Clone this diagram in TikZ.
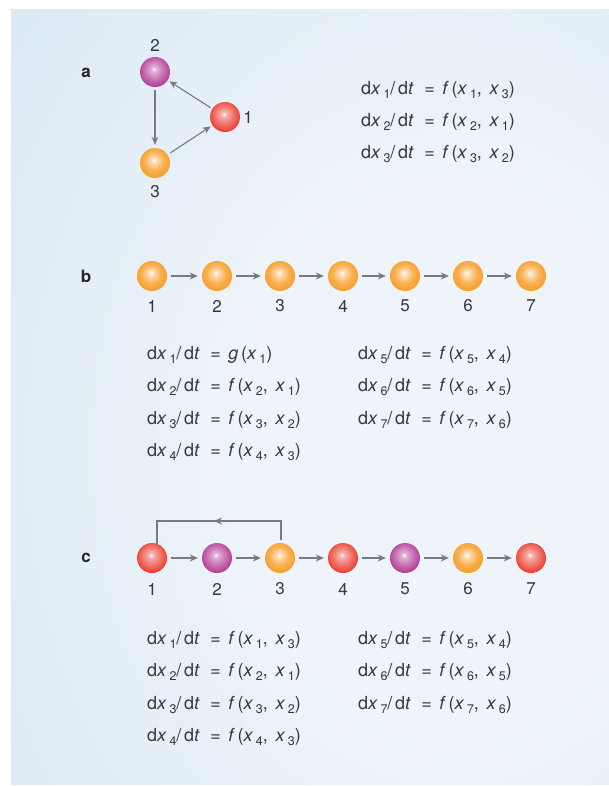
\documentclass[tikz,border=0pt]{standalone}
\usepackage{fontspec}
\setmainfont{TeX Gyre Heros}
\usetikzlibrary{arrows.meta,shadings}
\definecolor{txt}{RGB}{55,55,60}
\definecolor{arr}{RGB}{120,122,128}
\definecolor{bgtop}{RGB}{196,221,241}
\definecolor{bgmid}{RGB}{238,244,249}
\definecolor{ornge}{RGB}{247,150,25}
\definecolor{redb}{RGB}{232,38,22}
\definecolor{purp}{RGB}{168,36,138}
\definecolor{rim}{RGB}{252,222,80}
\pgfdeclareradialshading{orangeball}{\pgfpoint{-2bp}{5bp}}{color(0bp)=(white); color(4bp)=(white!70!ornge); color(16bp)=(ornge!75!white); color(32bp)=(ornge); color(44bp)=(ornge!90!black); color(49bp)=(rim); color(60bp)=(rim)}
\pgfdeclareradialshading{redball}{\pgfpoint{-2bp}{5bp}}{color(0bp)=(white); color(4bp)=(white!65!redb); color(16bp)=(redb!65!white); color(32bp)=(redb); color(44bp)=(redb!90!black); color(49bp)=(rim!75!redb); color(60bp)=(rim!75!redb)}
\pgfdeclareradialshading{purpball}{\pgfpoint{-2bp}{5bp}}{color(0bp)=(white); color(4bp)=(white!65!purp); color(16bp)=(purp!65!white); color(32bp)=(purp); color(44bp)=(purp!90!black); color(49bp)=(rim!65!purp); color(60bp)=(rim!65!purp)}
\pgfdeclareradialshading{bgsh}{\pgfpoint{15bp}{-5bp}}{color(0bp)=(bgmid); color(18bp)=(bgmid); color(75bp)=(bgtop); color(100bp)=(bgtop)}
\newcommand{\sbs}[1]{\raisebox{-0.45ex}{\fontsize{12.5}{12.5}\selectfont #1}}
\newcommand{\eqn}[4]{d\textit{x}\sbs{#1}/d\textit{t} = \textit{#2}(\textit{x}\sbs{#3}, \textit{x}\sbs{#4})}
\tikzset{
  ball/.style={circle, minimum size=30pt, inner sep=0pt},
  ob/.style={ball, shading=orangeball},
  rb/.style={ball, shading=redball},
  pb/.style={ball, shading=purpball},
  lab/.style={text=txt, font=\fontsize{17}{17}\selectfont},
  eq/.style={text=txt, font=\fontsize{18}{18}\selectfont\addfontfeatures{LetterSpace=15}, anchor=west, inner sep=0pt},
  panel/.style={text=black!85, font=\fontsize{17}{17}\selectfont\bfseries},
  con/.style={draw=arr, line width=1.1pt, -{Stealth[length=8pt,width=7pt]}},
}
\begin{document}
\begin{tikzpicture}[x=1pt,y=-1pt]
\useasboundingbox (0,0) rectangle (609,786);
\shade[shading=bgsh] (11,10) rectangle (609,784);
% panel a
\node[panel] (la) at (86,73) {a};
\node[pb] (a2) at (155,72) {};
\node[rb] (a1) at (225,117) {};
\node[ob] (a3) at (155,163) {};
\node[lab] (ta2) at (155,45) {2};
\node[lab] (ta1) at (248,117) {1};
\node[lab] (ta3) at (155,192) {3};
\draw[con, shorten <=2pt, shorten >=2pt] (a1) -- (a2);
\draw[con, shorten <=3pt, shorten >=3pt] (a2) -- (a3);
\draw[con, shorten <=3pt, shorten >=2pt] (a3) -- (a1);
\node[eq] (ea1) at (361,90) {\eqn{1}{f}{1}{3}};
\node[eq] (ea2) at (361,122) {\eqn{2}{f}{2}{1}};
\node[eq] (ea3) at (361,154) {\eqn{3}{f}{3}{2}};
% panel b
\node[panel] (lb) at (86,276) {b};
\foreach \i/\x in {1/152,2/217,3/280,4/343,5/405,6/468,7/531}{
  \node[ob] (b\i) at (\x,276) {};
  \node[lab] (tb\i) at (\x,306) {\i};
}
\foreach \i/\j in {1/2,2/3,3/4,4/5,5/6,6/7}{
  \draw[con, shorten <=4pt, shorten >=4pt] (b\i) -- (b\j);
}
\node[eq] (eb1) at (147,355) {d\textit{x}\sbs{1}/d\textit{t} = \textit{g}(\textit{x}\sbs{1})};
\node[eq] (eb2) at (147,387) {\eqn{2}{f}{2}{1}};
\node[eq] (eb3) at (147,420) {\eqn{3}{f}{3}{2}};
\node[eq] (eb4) at (147,452) {\eqn{4}{f}{4}{3}};
\node[eq] (eb5) at (358,355) {\eqn{5}{f}{5}{4}};
\node[eq] (eb6) at (358,387) {\eqn{6}{f}{6}{5}};
\node[eq] (eb7) at (358,420) {\eqn{7}{f}{7}{6}};
% panel c
\node[panel] (lc) at (86,558) {c};
\foreach \i/\x/\s in {1/152/rb,2/217/pb,3/280/ob,4/343/rb,5/405/pb,6/468/ob,7/531/rb}{
  \node[\s] (c\i) at (\x,558) {};
  \node[lab] (tc\i) at (\x,589) {\i};
}
\foreach \i/\j in {1/2,2/3,3/4,4/5,5/6,6/7}{
  \draw[con, shorten <=4pt, shorten >=4pt] (c\i) -- (c\j);
}
\coordinate (fbR) at (281,521);
\coordinate (fbL) at (157,521);
\coordinate (fbA) at (281,540);
\coordinate (fbB) at (157,544);
\draw[draw=arr, line width=1.1pt] (fbA) -- (fbR) -- (fbL) -- (fbB);
\draw[con] (fbR) -- (214,521);
\node[eq] (ec1) at (147,640) {\eqn{1}{f}{1}{3}};
\node[eq] (ec2) at (147,672) {\eqn{2}{f}{2}{1}};
\node[eq] (ec3) at (147,705) {\eqn{3}{f}{3}{2}};
\node[eq] (ec4) at (147,737) {\eqn{4}{f}{4}{3}};
\node[eq] (ec5) at (358,640) {\eqn{5}{f}{5}{4}};
\node[eq] (ec6) at (358,672) {\eqn{6}{f}{6}{5}};
\node[eq] (ec7) at (358,705) {\eqn{7}{f}{7}{6}};
\end{tikzpicture}
\end{document}
